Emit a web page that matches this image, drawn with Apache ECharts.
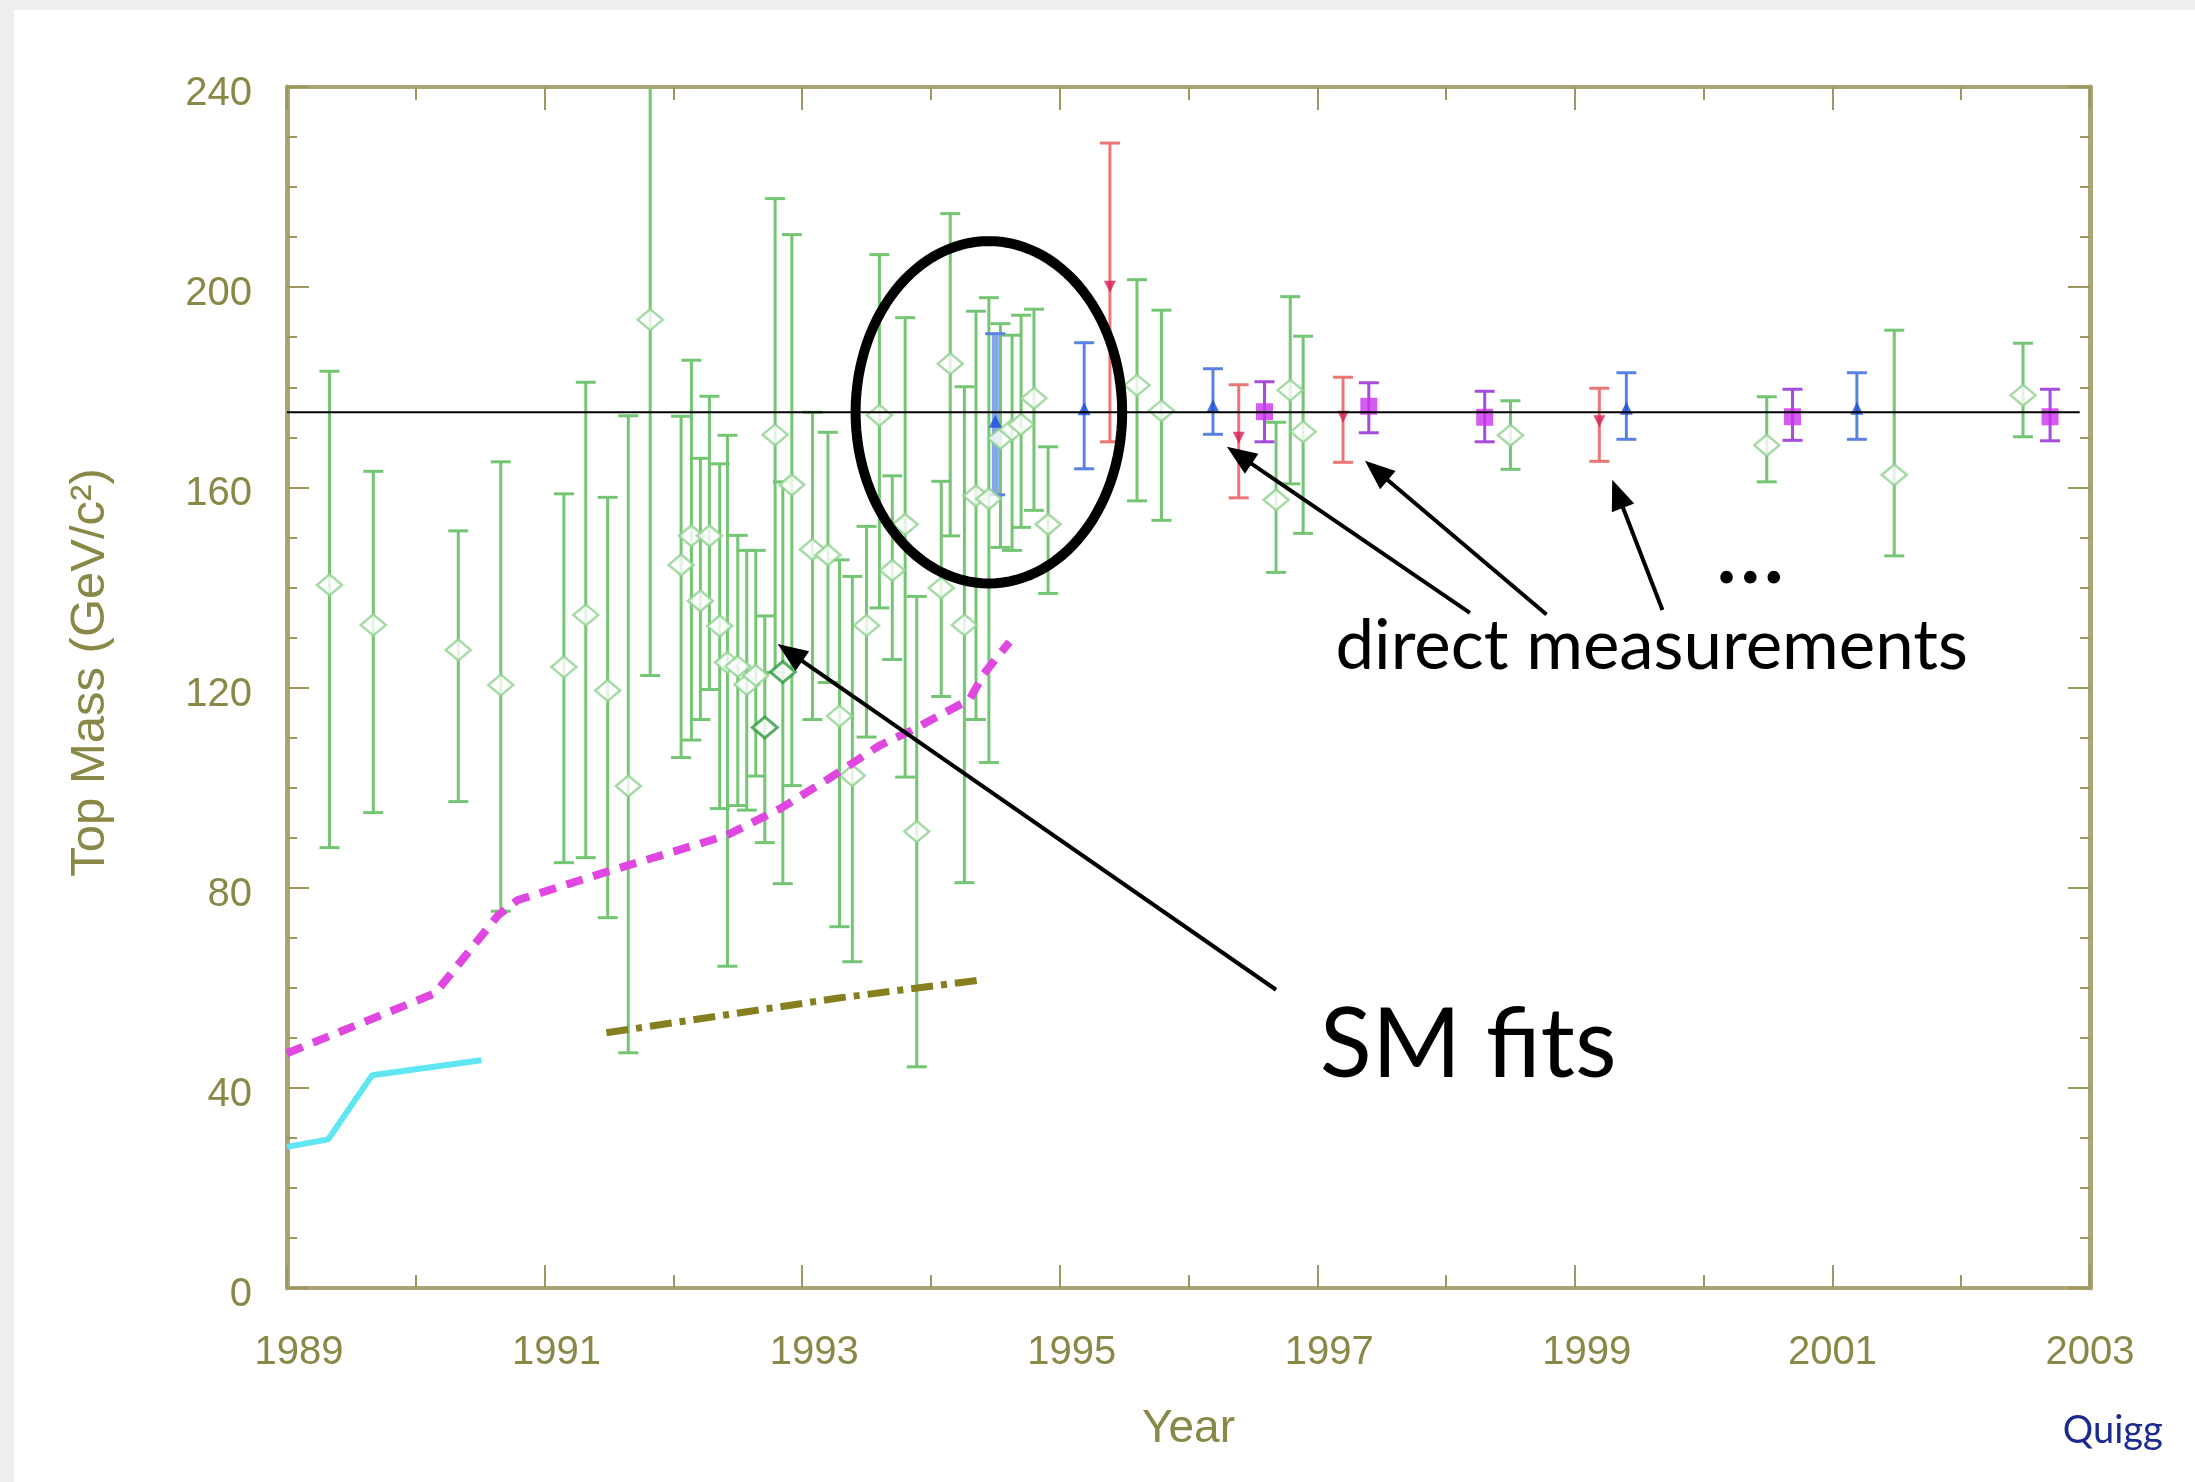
<!DOCTYPE html>
<html><head><meta charset="utf-8">
<script src="https://cdn.jsdelivr.net/npm/echarts@6.0.0/dist/echarts.min.js"></script>
<style>
html,body{margin:0;padding:0;width:2195px;height:1482px;background:#eeeeee;overflow:hidden;}
#chart{position:absolute;left:14px;top:10px;width:2181px;height:1472px;background:#ffffff;}
</style></head><body><div id="chart"></div>
<script>
// ---------- DATA ----------
// Standard-Model fits (green hollow diamonds)
const smYear = [1989.33, 1989.67, 1990.33, 1990.66, 1991.15, 1991.32, 1991.49, 1991.65, 1991.82, 1992.06,
                1992.14, 1992.21, 1992.28, 1992.36, 1992.42, 1992.50, 1992.57, 1992.64, 1992.71, 1992.79,
                1992.85, 1992.92, 1993.08, 1993.20, 1993.29, 1993.39, 1993.50, 1993.60, 1993.70, 1993.80,
                1993.89, 1994.08, 1994.15, 1994.26, 1994.35, 1994.45, 1994.54, 1994.63, 1994.70, 1994.80,
                1994.91, 1995.60, 1995.79, 1996.68, 1996.79, 1996.89, 1998.50, 2000.49, 2001.48, 2002.48];
const smMass = [140.5, 132.5, 127.5, 120.5, 124.1, 134.5, 119.4, 100.3, 193.5, 144.5,
                150.3, 137.3, 150.3, 132.3, 125.0, 124.2, 120.6, 122.4, 112.0, 170.5,
                123.1, 160.5, 147.6, 146.5, 114.3, 102.4, 132.4, 174.4, 143.4, 152.6,
                91.2, 139.9, 184.7, 132.5, 158.3, 157.7, 169.8, 171.5, 172.6, 177.8,
                152.6, 180.4, 175.3, 157.5, 179.4, 171.1, 170.4, 168.4, 162.5, 178.4];
const smLow  = [88.0, 95.0, 97.2, 75.3, 85.0, 86.0, 74.0, 47.0, 122.4, 106.0,
                109.5, 113.6, 119.6, 95.8, 64.3, 96.4, 95.5, 102.3, 89.0, 123.0,
                80.8, 100.4, 113.6, 121.0, 72.2, 65.2, 110.1, 135.9, 125.6, 102.1,
                44.2, 118.2, 150.3, 81.0, 113.6, 105.0, 148.0, 147.4, 152.0, 155.4,
                138.8, 157.3, 153.4, 143.0, 160.7, 150.8, 163.6, 161.1, 146.3, 170.1];
const smHigh = [183.2, 163.2, 151.3, 165.1, 158.7, 181.0, 158.0, 174.3, 250.0, 174.2,
                185.4, 165.8, 178.2, 164.7, 170.4, 150.4, 147.4, 147.4, 134.3, 217.7,
                161.1, 210.5, 175.0, 171.0, 145.5, 142.2, 152.2, 206.5, 162.3, 193.9,
                138.2, 161.2, 214.7, 180.1, 195.2, 197.9, 192.7, 190.4, 194.4, 195.6,
                168.1, 201.5, 195.4, 173.0, 198.1, 190.2, 177.3, 178.1, 191.4, 188.8];
const smDarkIdx = [18, 20];   // the two darker diamonds

// Direct measurements
const blueYear = [1994.50, 1995.19, 1996.19, 1999.40, 2001.19];
const blueMass = [173.2, 175.7, 176.3, 175.8, 175.8];
const blueLow  = [158.5, 163.7, 170.6, 169.6, 169.6];
const blueHigh = [190.7, 188.9, 183.7, 182.9, 182.9];

const redYear = [1995.39, 1996.39, 1997.20, 1999.19];
const redMass = [200.1, 169.9, 174.1, 173.2];
const redLow  = [169.1, 157.9, 165.0, 165.2];
const redHigh = [228.8, 180.5, 182.0, 179.8];

const avgYear = [1996.59, 1997.40, 1998.30, 2000.69, 2002.69];
const avgMass = [175.1, 176.2, 174.0, 174.1, 174.1];
const avgLow  = [169.1, 170.9, 169.1, 169.4, 169.3];
const avgHigh = [181.1, 180.9, 179.2, 179.6, 179.6];

// Lower bounds (curves)
const cyanYear = [1989.0, 1989.32, 1989.66, 1990.51];
const cyanMass = [28.2, 29.7, 42.5, 45.5];
const pinkYear = [1989.0, 1990.15, 1990.64, 1990.79, 1991.45, 1992.41, 1992.83, 1993.19, 1993.60, 1993.84, 1994.30, 1994.41, 1994.61];
const pinkMass = [46.9, 58.9, 74.5, 77.5, 82.9, 90.4, 95.8, 101.5, 108.4, 111.3, 117.6, 122.7, 129.1];
const oliveYear = [1991.48, 1993.27, 1994.40];
const oliveMass = [51.0, 57.9, 61.6];

// Reference horizontal line
const refYear = [1989, 2002.92];
const refMass = 175;

// Axis ticks
const xMin = 1989, xMax = 2003, xStep = 2;
const yMin = 0, yMax = 240, yStep = 40;
const xLabelsShifted = [1989, 1991, 1993, 1995, 1997, 1999];

// ---------- STYLE ----------
const axisCol = '#aba475', tickCol = '#9d975f', labelCol = '#8a8846';

const chart = echarts.init(document.getElementById('chart'), null, {renderer: 'canvas'});

function errBars(color, width, capHalf, wideIdx) {
  return function (params, api) {
    const x = api.value(0), lo = api.value(1), hi = api.value(2);
    const a = api.coord([x, lo]), b = api.coord([x, hi]);
    let c = color, w = width;
    if (wideIdx && wideIdx.indexOf(params.dataIndex) >= 0) { c = '#86a6ec'; w = 7; }
    const st = {stroke: c, lineWidth: w};
    const cs = {stroke: color, lineWidth: 3};
    return {type: 'group', children: [
      {type: 'line', shape: {x1: a[0], y1: a[1], x2: b[0], y2: b[1]}, style: st},
      {type: 'line', shape: {x1: a[0] - capHalf, y1: a[1], x2: a[0] + capHalf, y2: a[1]}, style: cs},
      {type: 'line', shape: {x1: b[0] - capHalf, y1: b[1], x2: b[0] + capHalf, y2: b[1]}, style: cs}
    ]};
  };
}
const zip3 = (xs, lo, hi) => xs.map((x, i) => [x, lo[i], hi[i]]);
const zip2 = (xs, ys) => xs.map((x, i) => [x, ys[i]]);

const baseX = {
  type: 'value', min: xMin, max: xMax, interval: xStep,
  axisLine: {show: true, onZero: false, lineStyle: {color: axisCol, width: 4}},
  axisTick: {show: true, inside: true, length: 23, lineStyle: {color: tickCol, width: 2}},
  minorTick: {show: true, splitNumber: 2, length: 13, lineStyle: {color: tickCol, width: 2}},
  splitLine: {show: false}
};
const baseY = {
  type: 'value', min: yMin, max: yMax, interval: yStep,
  axisLine: {show: true, onZero: false, lineStyle: {color: axisCol, width: 5}},
  axisTick: {show: true, inside: true, length: 22, lineStyle: {color: tickCol, width: 2}},
  minorTick: {show: true, splitNumber: 4, length: 10, lineStyle: {color: tickCol, width: 2}},
  splitLine: {show: false}
};

const option = {
  animation: false,
  backgroundColor: '#ffffff',
  grid: {left: 273, right: 105, top: 77, bottom: 194},
  xAxis: [
    Object.assign({}, baseX, {
      position: 'bottom',
      axisLabel: {color: labelCol, fontSize: 40, fontFamily: 'Liberation Sans', margin: 45,
                  formatter: v => xLabelsShifted.indexOf(v) >= 0 ? '{s|' + v + '}' : String(v),
                  rich: {s: {color: labelCol, fontSize: 40, fontFamily: 'Liberation Sans', padding: [0, 0, 0, 24]}}},
      name: 'Year', nameLocation: 'middle', nameGap: 118,
      nameTextStyle: {color: labelCol, fontSize: 46, fontFamily: 'Liberation Sans'}
    }),
    Object.assign({}, baseX, {position: 'top', axisLabel: {show: false}})
  ],
  yAxis: [
    Object.assign({}, baseY, {
      position: 'left',
      axisLabel: {color: labelCol, fontSize: 40, fontFamily: 'Liberation Sans', margin: 35,
                  formatter: v => '{s|' + v + '}',
                  rich: {s: {color: labelCol, fontSize: 40, fontFamily: 'Liberation Sans', padding: [14, 0, 0, 0]}}},
      name: 'Top Mass (GeV/c²)', nameLocation: 'middle', nameGap: 172,
      nameTextStyle: {color: labelCol, fontSize: 49, fontFamily: 'Liberation Sans', padding: [0, 0, 0, 30]}
    }),
    Object.assign({}, baseY, {position: 'right', axisLabel: {show: false}})
  ],
  series: [
    {type: 'custom', name: 'SM fit errors', clip: true, z: 2, silent: true,
     renderItem: errBars('#74c574', 3, 10), data: zip3(smYear, smLow, smHigh)},
    {type: 'scatter', name: 'SM fits', z: 3, silent: true, symbol: 'diamond', symbolSize: [25, 21],
     itemStyle: {color: '#ffffff', borderColor: '#8fd28f', borderWidth: 2.5},
     data: smYear.map((x, i) => smDarkIdx.indexOf(i) >= 0
        ? {value: [x, smMass[i]], itemStyle: {color: '#ffffff', borderColor: '#2f9a3c', borderWidth: 3}}
        : {value: [x, smMass[i]]})},
    {type: 'custom', name: 'CDF errors', clip: true, z: 2, silent: true,
     renderItem: errBars('#5a82e4', 3, 10, [0]), data: zip3(blueYear, blueLow, blueHigh)},
    {type: 'scatter', name: 'CDF', z: 3, silent: true, symbol: 'triangle', symbolSize: 13,
     itemStyle: {color: '#1d4fd6'}, data: zip2(blueYear, blueMass)},
    {type: 'custom', name: 'D0 errors', clip: true, z: 2, silent: true,
     renderItem: errBars('#ec7676', 3, 10), data: zip3(redYear, redLow, redHigh)},
    {type: 'scatter', name: 'D0', z: 3, silent: true, symbol: 'triangle', symbolRotate: 180, symbolSize: 12,
     itemStyle: {color: '#d41f55'}, data: zip2(redYear, redMass)},
    {type: 'custom', name: 'Average errors', clip: true, z: 2, silent: true,
     renderItem: errBars('#a64bdc', 3, 10), data: zip3(avgYear, avgLow, avgHigh)},
    {type: 'scatter', name: 'Average', z: 3, silent: true, symbol: 'rect', symbolSize: 17,
     itemStyle: {color: '#cc33ee'}, data: zip2(avgYear, avgMass)},
    {type: 'line', name: 'cyan bound', z: 4, silent: true, showSymbol: false,
     lineStyle: {color: '#5fe6f3', width: 6}, data: zip2(cyanYear, cyanMass)},
    {type: 'line', name: 'pink bound', z: 4, silent: true, showSymbol: false,
     lineStyle: {color: '#e046e0', width: 8, type: [17, 11]}, data: zip2(pinkYear, pinkMass)},
    {type: 'line', name: 'olive bound', z: 4, silent: true, showSymbol: false,
     lineStyle: {color: '#857f20', width: 7, type: [22, 8, 6, 8]}, data: zip2(oliveYear, oliveMass)},
    {type: 'line', name: 'reference', z: 5, silent: true, showSymbol: false,
     lineStyle: {color: '#000000', width: 2}, data: refYear.map(x => [x, refMass])}
  ]
};
chart.setOption(option);

// ---------- ANNOTATIONS (anchored in data space) ----------
const ann = {
  ellipse: {cx: 1994.45, cy: 175.0, rx: 1.035, ry: 34.2},
  arrows: [
    {from: [1996.68, 59.6], to: [1992.81, 128.7]},
    {from: [1998.185, 134.9], to: [1996.298, 168.1]},
    {from: [1998.78, 134.6], to: [1997.37, 165.3]},
    {from: [1999.68, 135.5], to: [1999.29, 161.5]}
  ],
  texts: [
    {text: 'direct measurements', at: [1997.141, 123.7], size: 69, color: '#000'},
    {text: 'SM fits', at: [1997.02, 42.2], size: 96, color: '#000'},
    {text: '...', at: [2000.087, 140.9], size: 100, color: '#000'},
    {text: 'Quigg', at: [2002.789, -30.97], size: 38, color: '#1b2a8e'}
  ]
};
function P(x, y) { return chart.convertToPixel({xAxisIndex: 0, yAxisIndex: 0}, [x, y]); }
const gfx = [];
(function () {
  const e = ann.ellipse;
  const pts = [];
  for (let k = 0; k < 120; k++) {
    const t = k / 120 * Math.PI * 2;
    pts.push(P(e.cx + e.rx * Math.cos(t), e.cy + e.ry * Math.sin(t)));
  }
  gfx.push({type: 'polygon', z: 100, shape: {points: pts}, style: {fill: 'none', stroke: '#000', lineWidth: 10}});
  ann.arrows.forEach(a => {
    const p1 = P(a.from[0], a.from[1]), p2 = P(a.to[0], a.to[1]);
    const dx = p2[0] - p1[0], dy = p2[1] - p1[1], L = Math.hypot(dx, dy);
    const ux = dx / L, uy = dy / L, nx = -uy, ny = ux;
    const hl = 30, hw = 12;
    const bx = p2[0] - ux * hl, by = p2[1] - uy * hl;
    gfx.push({type: 'line', z: 100, shape: {x1: p1[0], y1: p1[1], x2: bx + ux * 3, y2: by + uy * 3},
              style: {stroke: '#000', lineWidth: 4}});
    gfx.push({type: 'polygon', z: 100, shape: {points: [[p2[0], p2[1]], [bx + nx * hw, by + ny * hw], [bx - nx * hw, by - ny * hw]]},
              style: {fill: '#000'}});
  });
  ann.texts.forEach(t => {
    const p = P(t.at[0], t.at[1]);
    gfx.push({type: 'text', z: 100, x: p[0], y: p[1] - 0.3225 * t.size,
              style: {text: t.text, fill: t.color, font: t.size + 'px Lato', align: 'left', verticalAlign: 'middle'}});
  });
})();
chart.setOption({graphic: gfx});
</script></body></html>
